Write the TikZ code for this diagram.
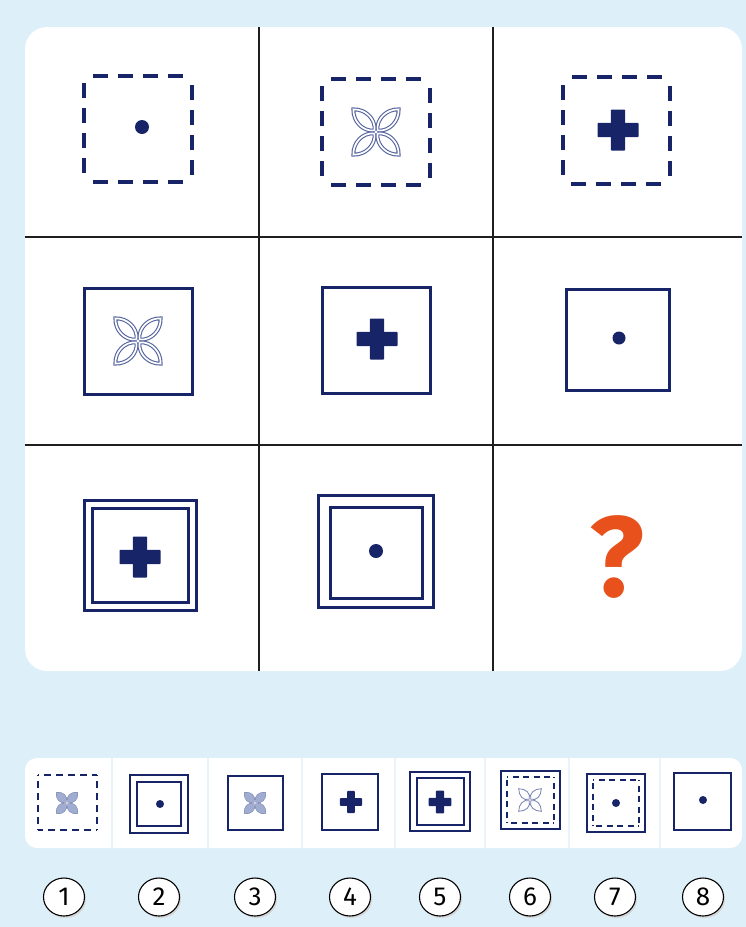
\documentclass[tikz,border=0pt]{standalone}
\usepackage{fontspec}
\setmainfont{Fira Sans}
\usetikzlibrary{shapes.geometric}
\definecolor{bgblue}{RGB}{221,240,250}
\definecolor{navy}{RGB}{24,36,104}
\definecolor{petalc}{RGB}{85,100,158}
\definecolor{petalfill}{RGB}{160,172,208}
\definecolor{qorange}{RGB}{232,80,28}
\definecolor{gridc}{RGB}{30,30,30}
\definecolor{sepc}{RGB}{232,243,250}
\tikzset{
  dline/.style={navy, line width=3.6pt, dash pattern=on 15pt off 10pt, dash phase=16pt},
  dlines/.style={navy, line width=2pt, dash pattern=on 7pt off 5pt, dash phase=6pt},
  sbox/.style={navy, line width=3pt},
  sboxs/.style={navy, line width=2pt},
  petalline/.style={petalc, line width=1.1pt, double=white, double distance=1.7pt},
  petalsolid/.style={petalc!70, fill=petalfill, line width=0.6pt},
  flower/.pic={
    \foreach \a in {45,135,225,315}{
      \draw[petalline, rotate=\a] (2,0) .. controls (10,9.5) and (24,8.5) .. (32,0) .. controls (24,-8.5) and (10,-9.5) .. (2,0);
    }
  },
  flowersolid/.pic={
    \foreach \a in {45,135,225,315}{
      \draw[petalsolid, rotate=\a] (1,0) .. controls (4,6) and (11,5.5) .. (15,0) .. controls (11,-5.5) and (4,-6) .. (1,0);
    }
  },
  flowerthin/.pic={
    \foreach \a in {45,135,225,315}{
      \draw[petalc!80, line width=0.8pt, rotate=\a] (1,0) .. controls (4,5.5) and (11,5) .. (16,0) .. controls (11,-5) and (4,-5.5) .. (1,0);
    }
  },
  cross/.pic={
    \fill[navy, rounded corners=0.8pt] (-20.5,-7.2) rectangle (20.5,7.2);
    \fill[navy, rounded corners=0.8pt] (-7.2,-20.5) rectangle (7.2,20.5);
  },
  numc/.style={ellipse, draw=black, line width=1.1pt, fill=white, minimum width=41pt, minimum height=38pt, inner sep=0pt, font=\fontsize{26}{26}\selectfont},
  numsh/.style={ellipse, fill=black!16, minimum width=41pt, minimum height=38pt, inner sep=0pt}
}
% dashed square drawn side by side, so each side starts and ends with a gap
\newcommand\dashsq[5]{%
  \draw[#1] (#2,#3) -- (#4,#3);
  \draw[#1] (#4,#3) -- (#4,#5);
  \draw[#1] (#4,#5) -- (#2,#5);
  \draw[#1] (#2,#5) -- (#2,#3);
}
\begin{document}
\begin{tikzpicture}[x=1pt,y=-1pt]
\useasboundingbox (0,0) rectangle (746,927);
\fill[bgblue] (0,0) rectangle (746,927);
% main panel
\fill[white, rounded corners=22pt] (25,27) rectangle (742,671);
\draw[gridc, line width=2pt] (259,27) -- (259,671);
\draw[gridc, line width=2pt] (493,27) -- (493,671);
\draw[gridc, line width=2pt] (25,237) -- (742,237);
\draw[gridc, line width=2pt] (25,445) -- (742,445);
% row 1
\dashsq{dline}{84}{76}{192}{182}
\fill[navy] (142,127) circle (7);
\dashsq{dline}{322}{79}{430}{185}
\pic at (376,132) {flower};
\dashsq{dline}{563}{77}{670}{184}
\pic at (618,130) {cross};
% row 2
\draw[sbox] (84,288) rectangle (192,394);
\pic at (138,341) {flower};
\draw[sbox] (322,287) rectangle (430,393);
\pic at (377,339) {cross};
\draw[sbox] (566,289) rectangle (669,390);
\fill[navy] (619,338) circle (6.5);
% row 3
\draw[sbox] (84,500) rectangle (196,610);
\draw[sbox] (92,508) rectangle (188,602);
\pic at (140,557) {cross};
\draw[sbox] (318,495) rectangle (433,607);
\draw[sbox] (330,507) rectangle (422,598);
\fill[navy] (376,551) circle (7);
\node[text=qorange, font=\fontsize{114}{114}\selectfont\bfseries] (q) at (617,557) {?};
% options strip
\fill[white, rounded corners=12pt] (25,758) rectangle (742,848);
\foreach \sx in {112,208,302,395,485,569,660}{
  \draw[sepc, line width=2pt] (\sx,758) -- (\sx,848);
}
% option 1
\dashsq{dlines}{38}{775}{97}{830}
\pic at (67,803) {flowersolid};
% option 2
\draw[sboxs] (130,775) rectangle (188,833);
\draw[sboxs] (137,782) rectangle (181,826);
\fill[navy] (160,804) circle (4);
% option 3
\draw[sboxs] (228,776) rectangle (283,830);
\pic at (255,803) {flowersolid};
% option 4
\draw[sboxs] (322,774) rectangle (378,830);
\pic[scale=0.54] at (351,802) {cross};
% option 5
\draw[sboxs] (410,772) rectangle (470,831);
\draw[sboxs] (417,778) rectangle (464,825);
\pic[scale=0.56] at (440,802) {cross};
% option 6
\draw[sboxs] (501,771) rectangle (560,829);
\dashsq{dlines, line width=1.8pt, dash pattern=on 6pt off 4.5pt, dash phase=5pt}{507}{777}{554}{823}
\pic at (530,800) {flowerthin};
% option 7
\draw[sboxs] (587,774) rectangle (645,832);
\dashsq{dlines, line width=1.8pt, dash pattern=on 6pt off 4.5pt, dash phase=5pt}{593}{780}{639}{826}
\fill[navy] (616,803) circle (4);
% option 8
\draw[sboxs] (674,773) rectangle (731,830);
\fill[navy] (703,800) circle (4);
% numbers
\foreach \nx/\nn [count=\i] in {64/1,159/2,255/3,350/4,440/5,530/6,615/7,703/8}{
  \node[numsh] at (\nx+1.5,899) {};
  \node[numc] (n\i) at (\nx,897) {\nn};
}
\end{tikzpicture}
\end{document}
